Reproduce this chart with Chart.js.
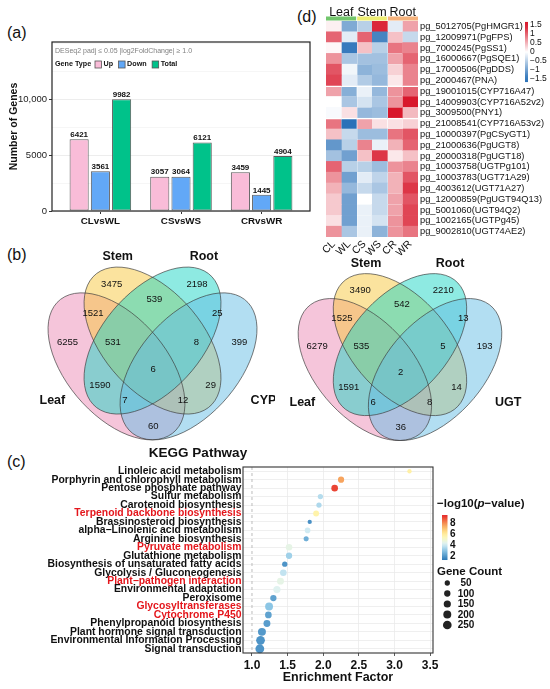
<!DOCTYPE html>
<html>
<head>
<meta charset="utf-8">
<title>DEG, Venn, KEGG and heatmap figure</title>
<script src="https://cdn.jsdelivr.net/npm/chart.js@4.4.1/dist/chart.umd.min.js"></script>
<style>
  html, body { margin: 0; padding: 0; background: #fff; }
  body { position: relative; width: 550px; height: 689px; overflow: hidden;
         font-family: "Liberation Sans", Arial, sans-serif; }
  canvas { position: absolute; }
  .tag { position: absolute; font-size: 16px; line-height: 16px; color: #111; }
</style>
</head>
<body>
<div class="tag" style="left:7px;top:25px">(a)</div>
<div class="tag" style="left:7px;top:247px">(b)</div>
<div class="tag" style="left:7px;top:454px">(c)</div>
<div class="tag" style="left:297px;top:9px">(d)</div>

<canvas id="bars" width="320" height="236" style="left:0;top:0"></canvas>
<canvas id="heat" width="270" height="262" style="left:280px;top:0"></canvas>
<canvas id="vennCyp" width="275" height="205" style="left:0;top:240px"></canvas>
<canvas id="vennUgt" width="275" height="205" style="left:275px;top:240px"></canvas>
<canvas id="kegg" width="550" height="249" style="left:0;top:440px"></canvas>

<script>
const FONT = '"Liberation Sans", Arial, sans-serif';
Chart.defaults.font.family = FONT;

// ---- (a) DEG counts
const comparisons = ['CLvsWL', 'CSvsWS', 'CRvsWR'];
const upCounts = [6421, 3057, 3459];
const downCounts = [3561, 3064, 1445];
const totalCounts = [9982, 6121, 4904];
const geneTypes = ['Up', 'Down', 'Total'];
const geneTypeColors = ['#F9BCD8', '#62A8F7', '#00C28A'];
const barYTicks = [0, 2500, 5000, 7500, 10000, 12500, 15000];
const barYLabels = { 0: '0', 5000: '5000', 10000: '10,000' };

// ---- (d) heatmap
const tissueCols = ['CL', 'WL', 'CS', 'WS', 'CR', 'WR'];
const tissueGroups = ['Leaf', 'Stem', 'Root'];
const tissueGroupColors = ['#72C66C', '#EEEE72', '#F5B27C'];
const geneRows = [
  'pg_5012705(PgHMGR1)', 'pg_12009971(PgFPS)', 'pg_7000245(PgSS1)', 'pg_16000667(PgSQE1)',
  'pg_17000506(PgDDS)', 'pg_2000467(PNA)', 'pg_19001015(CYP716A47)', 'pg_14009903(CYP716A52v2)',
  'pg_3009500(PNY1)', 'pg_21008541(CYP716A53v2)', 'pg_10000397(PgCSyGT1)', 'pg_21000636(PgUGT8)',
  'pg_20000318(PgUGT18)', 'pg_10003758(UGTPg101)', 'pg_10003783(UGT71A29)', 'pg_4003612(UGT71A27)',
  'pg_12000859(PgUGT94Q13)', 'pg_5001060(UGT94Q2)', 'pg_1002165(UGTPg45)', 'pg_9002810(UGT74AE2)'
];
const exprZ = [
  [ 0.10, -0.90, -0.50,  1.40, -0.20,  0.60],
  [ 1.00, -0.20,  1.00, -1.30,  0.40, -0.40],
  [ 0.05, -1.40,  0.40, -0.50,  0.90,  0.80],
  [ 0.70, -0.60, -0.65, -0.65,  0.60,  1.00],
  [ 1.10, -0.10, -0.80, -0.70,  0.30,  0.80],
  [ 1.20, -0.20, -0.55, -0.75,  0.15,  0.80],
  [ 0.60, -0.85, -0.15, -0.75,  0.70,  1.00],
  [ 0.00, -0.60, -0.30, -0.60,  0.70,  1.50],
  [-0.05,  0.20, -0.75, -0.70,  1.50,  0.45],
  [ 0.90, -1.60,  0.60,  0.20,  0.20,  0.30],
  [ 0.40, -0.40, -0.70, -0.70,  0.90,  1.10],
  [-1.10, -0.50,  0.80, -0.15,  0.50,  1.00],
  [-0.65, -1.00,  0.40,  1.30,  0.15,  0.40],
  [ 1.00, -0.50, -0.50, -0.70,  0.70,  0.80],
  [ 0.70, -1.00, -0.20, -0.45,  0.50,  1.10],
  [ 0.50, -0.75, -0.40, -0.60,  0.50,  1.30],
  [ 0.35, -1.00,  0.00, -0.40,  0.60,  1.10],
  [ 0.35, -1.00, -0.15, -0.40,  0.60,  1.20],
  [ 0.20, -1.00, -0.15, -0.30,  0.70,  1.20],
  [ 0.70, -0.60, -0.15, -0.80,  0.70,  0.90]
];
const rowBreaks = [6, 9];
const colBreaks = [2, 4];
const heatLegendValues = [1.5, 1, 0.5, 0, -0.5, -1, -1.5];
const heatLegendLabels = ['1.5', '1', '0.5', '0', '\u22120.5', '\u22121', '\u22121.5'];

// ---- (b) Venn diagrams
const vennRegions = ['L', 'S', 'R', 'X', 'SR', 'LS', 'RX', 'LSR', 'SRX', 'LSRX', 'LR', 'SX', 'LRX', 'LSX', 'LX'];
const cypCounts = [6255, 3475, 2198, 399, 539, 1521, 25, 531, 8, 6, 1590, 29, 7, 12, 60];
const ugtCounts = [6279, 3490, 2210, 193, 542, 1525, 13, 535, 5, 2, 1591, 14, 6, 8, 36];

// ---- (c) KEGG enrichment
const pathways = [
  'Linoleic acid metabolism', 'Porphyrin and chlorophyll metabolism', 'Pentose phosphate pathway',
  'Sulfur metabolism', 'Carotenoid biosynthesis', 'Terpenoid backbone biosynthesis',
  'Brassinosteroid biosynthesis', 'alpha\u2212Linolenic acid metabolism', 'Arginine biosynthesis',
  'Pyruvate metabolism', 'Glutathione metabolism', 'Biosynthesis of unsaturated fatty acids',
  'Glycolysis / Gluconeogenesis', 'Plant\u2212pathogen interaction', 'Environmental adaptation',
  'Peroxisome', 'Glycosyltransferases', 'Cytochrome P450', 'Phenylpropanoid biosynthesis',
  'Plant hormone signal transduction', 'Environmental Information Processing', 'Signal transduction'
];
const highlighted = ['Terpenoid backbone biosynthesis', 'Pyruvate metabolism',
  'Plant\u2212pathogen interaction', 'Glycosyltransferases', 'Cytochrome P450'];
const enrichment = [3.21, 2.25, 2.16, 1.96, 1.94, 1.90, 1.81, 1.78, 1.76, 1.52, 1.52,
  1.46, 1.44, 1.40, 1.35, 1.30, 1.24, 1.23, 1.21, 1.14, 1.12, 1.11];
const negLogP = [5.8, 7.6, 9.0, 3.6, 3.5, 5.7, 1.8, 4.0, 2.5, 4.5, 3.3,
  1.9, 3.8, 4.5, 4.3, 2.2, 3.0, 2.2, 2.1, 2.0, 1.9, 1.9];
const geneCount = [12, 95, 115, 50, 50, 80, 10, 65, 40, 115, 100,
  50, 115, 135, 150, 100, 195, 120, 135, 200, 255, 260];
const efTicks = [1.0, 1.5, 2.0, 2.5, 3.0, 3.5];
const pLegendTicks = [8, 6, 4, 2];
const countLegend = [50, 100, 150, 200, 250];

// colour ramps
const heatStops = [[-1.5, '#2A71B8'], [0, '#FFFFFF'], [1.5, '#D8172B']];
const pStops = [[1.3, '#2C79B7'], [3, '#8CC6E5'], [4.2, '#DDF1F5'], [4.8, '#EEF6D6'],
  [5.6, '#FFF6AE'], [6.5, '#FEDC86'], [7.6, '#F7A45E'], [8.6, '#F0613E'], [9.5, '#E3232A']];

function hexRgb(h) {
  return [parseInt(h.slice(1, 3), 16), parseInt(h.slice(3, 5), 16), parseInt(h.slice(5, 7), 16)];
}
function ramp(stops, v) {
  if (v <= stops[0][0]) return stops[0][1];
  for (let i = 1; i < stops.length; i++) {
    if (v <= stops[i][0]) {
      const t = (v - stops[i - 1][0]) / (stops[i][0] - stops[i - 1][0]);
      const a = hexRgb(stops[i - 1][1]), b = hexRgb(stops[i][1]);
      return 'rgb(' + a.map((c, k) => Math.round(c + (b[k] - c) * t)).join(',') + ')';
    }
  }
  return stops[stops.length - 1][1];
}
// ggplot-like area scaling of point size
const bubbleRadius = n => Math.sqrt(4 + 0.0595 * n);

const framePlugin = {
  id: 'frame',
  afterDatasetsDraw(chart, args, opts) {
    const { left, top, right, bottom } = chart.chartArea;
    const c = chart.ctx;
    c.save();
    c.strokeStyle = opts.color || '#333';
    c.lineWidth = opts.width || 1;
    c.strokeRect(left, top, right - left, bottom - top);
    c.restore();
  }
};

// ================= (a) bar chart =================
const barSeries = [upCounts, downCounts, totalCounts];

const barDecor = {
  id: 'barDecor',
  afterDatasetsDraw(chart) {
    const c = chart.ctx;
    c.save();
    c.font = 'bold 8px ' + FONT;
    c.fillStyle = '#111';
    c.textAlign = 'center';
    c.textBaseline = 'bottom';
    barSeries.forEach((s, k) => {
      chart.getDatasetMeta(k).data.forEach((el, i) => c.fillText(s[i], el.x, el.y - 0.5));
    });
    const { left, top } = chart.chartArea;
    c.textAlign = 'left';
    c.textBaseline = 'middle';
    c.font = '7px ' + FONT;
    c.fillStyle = '#808080';
    c.fillText('DESeq2 padj \u2264 0.05 |log2FoldChange| \u2265 1.0', left + 3, top + 9);
    c.font = 'bold 7.2px ' + FONT;
    c.fillStyle = '#111';
    c.fillText('Gene Type', left + 3, top + 22.5);
    let x = left + 43;
    geneTypes.forEach((g, k) => {
      c.fillStyle = geneTypeColors[k];
      c.fillRect(x, top + 19, 6.5, 7);
      c.strokeStyle = '#555';
      c.lineWidth = 0.8;
      c.strokeRect(x, top + 19, 6.5, 7);
      c.fillStyle = '#111';
      c.fillText(g, x + 8.5, top + 22.5);
      x += 8.5 + c.measureText(g).width + 5.5;
    });
    c.restore();
  }
};

new Chart('bars', {
  type: 'bar',
  data: {
    datasets: barSeries.map((s, k) => ({
      label: geneTypes[k],
      data: s.map((v, i) => ({ x: i + 1, y: v })),
      backgroundColor: geneTypeColors[k],
      borderColor: '#5a5a5a',
      borderWidth: 1,
      borderSkipped: false,
      categoryPercentage: 0.79,
      barPercentage: 0.9
    }))
  },
  options: {
    responsive: false,
    animation: false,
    events: [],
    layout: { padding: { top: 42, right: 10, left: 0, bottom: 0 } },
    plugins: { legend: { display: false }, tooltip: { enabled: false }, frame: { color: '#222', width: 1.2 } },
    scales: {
      x: {
        type: 'linear', min: 0.4, max: 3.6, offset: false,
        afterBuildTicks: s => { s.ticks = comparisons.map((c, i) => ({ value: i + 1 })); },
        ticks: { callback: v => comparisons[v - 1], font: { size: 9.8, weight: 'bold' }, color: '#111', padding: 1, maxRotation: 0, autoSkip: false },
        grid: { offset: false, drawOnChartArea: false, tickLength: 3, tickColor: '#333' },
        border: { display: false },
        afterFit: s => { s.height = 25; }
      },
      y: {
        min: 0, max: 15100,
        afterBuildTicks: s => { s.ticks = barYTicks.map(v => ({ value: v })); },
        ticks: {
          callback: v => barYLabels[v] || '',
          font: { size: 9.5 }, color: '#222', padding: 2
        },
        grid: {
          color: ctx => ctx.tick && barYLabels[ctx.tick.value] ? '#EDEDED' : '#F6F6F6',
          tickLength: 3,
          tickColor: ctx => ctx.tick && barYLabels[ctx.tick.value] ? '#333' : 'rgba(0,0,0,0)'
        },
        border: { display: false },
        title: { display: true, text: 'Number of Genes', font: { size: 10.5, weight: 'bold' }, color: '#111', padding: { top: 8, bottom: 0 } },
        afterFit: s => { s.width = 52; }
      }
    }
  },
  plugins: [framePlugin, barDecor]
});

// ================= (d) heatmap =================
const heatDecor = {
  id: 'heatDecor',
  afterDraw(chart) {
    const c = chart.ctx, xs = chart.scales.x, top = chart.chartArea.top;
    c.save();
    c.font = '12.5px ' + FONT;
    c.textAlign = 'center';
    c.textBaseline = 'alphabetic';
    tissueGroups.forEach((g, k) => {
      const x0 = xs.getPixelForValue(k * 2), x1 = xs.getPixelForValue(k * 2 + 2);
      c.fillStyle = tissueGroupColors[k];
      c.fillRect(x0 + (k ? 0.5 : 0), top - 4.5, x1 - x0 - (k ? 0.5 : 0) - (k < 2 ? 0.5 : 0), 4);
      c.fillStyle = '#111';
      c.fillText(g, (x0 + x1) / 2, top - 5);
    });
    // colour key
    const kx = 245, yOf = v => 52 - v * 18;
    const g = c.createLinearGradient(0, yOf(1.67), 0, yOf(-1.67));
    for (let i = 0; i <= 10; i++) {
      const v = 1.67 - i * 0.334;
      g.addColorStop(i / 10, ramp(heatStops, v));
    }
    c.fillStyle = g;
    c.fillRect(kx, yOf(1.67), 3, yOf(-1.67) - yOf(1.67));
    c.font = '8.5px ' + FONT;
    c.textAlign = 'left';
    c.textBaseline = 'middle';
    c.fillStyle = '#111';
    heatLegendValues.forEach((v, i) => c.fillText(heatLegendLabels[i], kx + 5, yOf(v)));
    c.restore();
  }
};

new Chart('heat', {
  type: 'bar',
  data: {
    labels: geneRows,
    datasets: tissueCols.map((col, j) => ({
      label: col,
      data: geneRows.map(() => [j, j + 1]),
      backgroundColor: ctx => ramp(heatStops, exprZ[ctx.dataIndex][j]),
      borderColor: '#FFFFFF',
      borderWidth: ctx => ({
        top: rowBreaks.includes(ctx.dataIndex) ? 1.5 : 0,
        left: colBreaks.includes(j) ? 1 : 0,
        right: 0, bottom: 0
      }),
      borderSkipped: false,
      grouped: false,
      categoryPercentage: 1,
      barPercentage: 1
    }))
  },
  options: {
    indexAxis: 'y',
    responsive: false,
    animation: false,
    events: [],
    layout: { padding: { top: 21, left: 46, right: 0, bottom: 0 } },
    plugins: { legend: { display: false }, tooltip: { enabled: false } },
    scales: {
      x: {
        type: 'linear', min: 0, max: 6, offset: false,
        afterBuildTicks: s => { s.ticks = tissueCols.map((c, i) => ({ value: i + 0.5 })); },
        ticks: { callback: v => tissueCols[Math.floor(v)], minRotation: 45, maxRotation: 45, autoSkip: false, font: { size: 10.5 }, color: '#111', padding: 1 },
        grid: { display: false, drawTicks: false },
        border: { display: false },
        afterFit: s => { s.height = 25; }
      },
      y: {
        type: 'category', position: 'right',
        ticks: { font: { size: 9.3 }, color: '#111', padding: 2, autoSkip: false },
        grid: { display: false, drawTicks: false },
        border: { display: false },
        afterFit: s => { s.width = 132; }
      }
    }
  },
  plugins: [heatDecor]
});

// ================= (b) Venn diagrams =================
// four rotated ellipses (VennDiagram quad layout, unit square, y up)
const ellipseCx = [0.35, 0.5, 0.5, 0.65];
const ellipseCy = [0.47, 0.57, 0.57, 0.47];
const ellipseRot = [135, 135, 45, 45];
const ellipseA = 0.35, ellipseB = 0.2;
const vennFills = ['rgba(236,140,182,0.5)', 'rgba(248,199,62,0.5)', 'rgba(30,214,198,0.5)', 'rgba(102,190,230,0.5)'];
const regionU = [0.146, 0.33, 0.685, 0.862, 0.508, 0.252, 0.770, 0.335, 0.683, 0.503, 0.281, 0.742, 0.385, 0.627, 0.503];
const regionV = [0.564, 0.789, 0.789, 0.564, 0.731, 0.677, 0.677, 0.564, 0.564, 0.460, 0.398, 0.398, 0.339, 0.339, 0.239];
const setLabelU = [0.083, 0.355, 0.714, 0.962];
const setLabelV = [0.339, 0.894, 0.894, 0.339];

const vennPlugin = {
  id: 'venn',
  beforeDatasetsDraw(chart) {
    const c = chart.ctx, xs = chart.scales.x, ys = chart.scales.y;
    const x0 = xs.getPixelForValue(0), y0 = ys.getPixelForValue(0);
    const kx = xs.getPixelForValue(1) - x0, ky = y0 - ys.getPixelForValue(1);
    const path = i => {
      c.save();
      c.beginPath();
      c.translate(x0, y0);
      c.scale(kx, -ky);
      c.ellipse(ellipseCx[i], ellipseCy[i], ellipseA, ellipseB, ellipseRot[i] * Math.PI / 180, 0, 2 * Math.PI);
      c.restore();
    };
    c.save();
    for (let i = 0; i < 4; i++) { path(i); c.fillStyle = vennFills[i]; c.fill(); }
    for (let i = 0; i < 4; i++) { path(i); c.strokeStyle = 'rgba(60,60,60,0.85)'; c.lineWidth = 0.8; c.stroke(); }
    c.restore();
  },
  afterDatasetsDraw(chart, args, opts) {
    const c = chart.ctx, xs = chart.scales.x, ys = chart.scales.y;
    c.save();
    c.textAlign = 'center';
    c.textBaseline = 'middle';
    c.fillStyle = '#111';
    c.font = '9.5px ' + FONT;
    chart.getDatasetMeta(0).data.forEach((pt, i) => c.fillText(opts.counts[i], pt.x, pt.y));
    c.font = 'bold 12.5px ' + FONT;
    opts.setNames.forEach((n, i) => c.fillText(n, xs.getPixelForValue(setLabelU[i]), ys.getPixelForValue(setLabelV[i])));
    c.restore();
  }
};

function vennChart(id, counts, setNames, xRange, yRange) {
  return new Chart(id, {
    type: 'scatter',
    data: { datasets: [{ data: regionU.map((u, i) => ({ x: u, y: regionV[i] })), pointRadius: 0 }] },
    options: {
      responsive: false,
      animation: false,
      events: [],
      layout: { padding: 0 },
      plugins: { legend: { display: false }, tooltip: { enabled: false }, venn: { counts, setNames } },
      scales: {
        x: { type: 'linear', display: false, min: xRange[0], max: xRange[1] },
        y: { type: 'linear', display: false, min: yRange[0], max: yRange[1] }
      }
    },
    plugins: [vennPlugin]
  });
}
vennChart('vennCyp', cypCounts, ['Leaf', 'Stem', 'Root', 'CYP'], [-0.135, 1.010], [0.165, 0.960]);
vennChart('vennUgt', ugtCounts, ['Leaf', 'Stem', 'Root', 'UGT'], [-0.034, 1.141], [0.167, 0.990]);

// ================= (c) KEGG bubble chart =================
const keggDecor = {
  id: 'keggDecor',
  beforeDatasetsDraw(chart) {
    const c = chart.ctx, xs = chart.scales.x, { top, bottom } = chart.chartArea;
    const x = xs.getPixelForValue(1.0);
    c.save();
    c.setLineDash([3, 3]);
    c.strokeStyle = '#B5B5B5';
    c.lineWidth = 0.9;
    c.beginPath(); c.moveTo(x, top); c.lineTo(x, bottom); c.stroke();
    c.restore();
  },
  afterDraw(chart) {
    const c = chart.ctx;
    c.save();
    c.fillStyle = '#111';
    c.textBaseline = 'middle';
    c.textAlign = 'center';
    c.font = 'bold 13.5px ' + FONT;
    c.fillText('KEGG Pathway', 198, 13);

    // colour key
    c.textAlign = 'left';
    let tx = 437;
    const parts = [['bold ', '\u2212log10('], ['italic bold ', 'p'], ['bold ', '\u2212value)']];
    parts.forEach(([st, t]) => { c.font = st + '11.5px ' + FONT; c.fillText(t, tx, 64); tx += c.measureText(t).width; });
    const cx = 442, yOf = v => 116 - (v - 2) * 5.5;
    const g = c.createLinearGradient(0, yOf(9.45), 0, yOf(1.27));
    for (let i = 0; i <= 16; i++) {
      const v = 9.45 - i * (9.45 - 1.27) / 16;
      g.addColorStop(i / 16, ramp(pStops, v));
    }
    c.fillStyle = g;
    c.fillRect(cx, yOf(9.45), 5.5, yOf(1.27) - yOf(9.45));
    c.fillStyle = '#111';
    c.font = 'bold 10px ' + FONT;
    pLegendTicks.forEach(v => c.fillText(String(v), 450, yOf(v)));

    // size key
    c.font = 'bold 11.5px ' + FONT;
    c.fillText('Gene Count', 437, 132);
    c.font = 'bold 10px ' + FONT;
    countLegend.forEach((n, i) => {
      const y = 143 + i * 10.5;
      c.fillStyle = '#222';
      c.beginPath(); c.arc(447.3, y, bubbleRadius(n), 0, 2 * Math.PI); c.fill();
      c.fillStyle = '#111';
      c.textAlign = 'center';
      c.fillText(String(n), 466, y + 0.5);
    });
    c.restore();
  }
};

new Chart('kegg', {
  type: 'bubble',
  data: {
    datasets: [{
      data: pathways.map((p, i) => ({ x: enrichment[i], y: p, r: bubbleRadius(geneCount[i]) })),
      backgroundColor: ctx => ramp(pStops, negLogP[ctx.dataIndex]),
      borderWidth: 0
    }]
  },
  options: {
    responsive: false,
    animation: false,
    events: [],
    layout: { padding: { top: 27, right: 117, left: 0, bottom: 0 } },
    plugins: { legend: { display: false }, tooltip: { enabled: false }, frame: { color: '#333', width: 1.1 } },
    scales: {
      x: {
        type: 'linear', min: 0.874, max: 3.54,
        afterBuildTicks: s => { s.ticks = efTicks.map(v => ({ value: v })); },
        ticks: { callback: v => v.toFixed(1), font: { size: 12, weight: 'bold' }, color: '#111', padding: 2, maxRotation: 0 },
        grid: { color: ctx => ctx.tick && ctx.tick.value === 1 ? 'rgba(0,0,0,0)' : '#EBEBEB', lineWidth: 0.8, tickLength: 3, tickColor: '#333' },
        border: { display: false },
        title: { display: true, text: 'Enrichment Factor', font: { size: 12.5, weight: 'bold' }, color: '#111', padding: { top: 4, bottom: 4 } },
        afterFit: s => { s.height = 36; }
      },
      y: {
        type: 'category', labels: pathways, offset: true,
        ticks: {
          font: { size: 10.4, weight: 'bold' },
          color: ctx => highlighted.includes(pathways[ctx.index]) ? '#E4161C' : '#111',
          padding: 1.5, autoSkip: false
        },
        grid: { offset: false, color: '#EBEBEB', lineWidth: 0.8, drawTicks: false },
        border: { display: false },
        afterFit: s => { s.width = 243; }
      }
    }
  },
  plugins: [framePlugin, keggDecor]
});
</script>
</body>
</html>
